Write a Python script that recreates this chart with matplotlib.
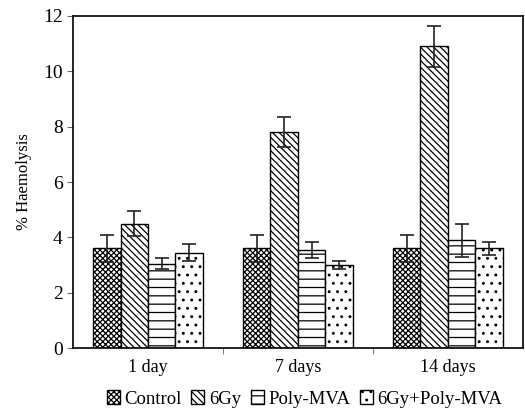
import numpy as np
import matplotlib
matplotlib.use("Agg")
import matplotlib.pyplot as plt

# data
days = ["1 day", "7 days", "14 days"]
series = ["Control", "6Gy", "Poly-MVA", "6Gy+Poly-MVA"]
control = [3.6, 3.6, 3.6]
gy6 = [4.5, 7.8, 10.9]
poly = [3.05, 3.55, 3.9]
combo = [3.45, 3.0, 3.6]
err_control = [0.5, 0.5, 0.5]
err_gy6 = [0.45, 0.55, 0.75]
err_poly = [0.2, 0.3, 0.6]
err_combo = [0.3, 0.15, 0.25]

plt.rcParams['font.family'] = ['Liberation Serif', 'DejaVu Serif']
plt.rcParams['hatch.linewidth'] = 0.9

fig = plt.figure(figsize=(5.25, 4.09), dpi=100)
ax = fig.add_axes([0.139, 0.149, 0.857, 0.812])

x = np.arange(len(days))
w = 0.183
vals = [control, gy6, poly, combo]
errs = [err_control, err_gy6, err_poly, err_combo]
hatches = ['xxxxxx', '\\\\\\\\\\', '--', '..']
for i in range(4):
    ax.bar(x + (i - 1.5) * w, vals[i], w, yerr=errs[i], color='white',
           edgecolor='black', linewidth=1.0, hatch=hatches[i],
           error_kw=dict(ecolor='#222222', elinewidth=1.2, capsize=5, capthick=1.2),
           label=series[i])

ax.set_xlim(-0.5, 2.5)
ax.set_ylim(0, 12)
ax.set_yticks(range(0, 13, 2))
ax.set_xticks(x)
ax.set_xticklabels(days)
ax.set_xticks([0.5, 1.5], minor=True)
ax.tick_params(axis='x', which='major', length=0, labelsize=13, pad=8)
ax.tick_params(axis='x', which='minor', length=4, color='#666666')
ax.tick_params(axis='y', labelsize=14, length=4, color='#666666')
ax.set_ylabel('% Haemolysis', fontsize=12, labelpad=8)
for s in ax.spines.values():
    s.set_linewidth(1.2)

ax.legend(loc='upper center', bbox_to_anchor=(0.515, -0.105), ncol=4, frameon=False,
          fontsize=13.5, handlelength=0.7, handleheight=0.7, handletextpad=0.25,
          columnspacing=0.5, borderaxespad=0)

fig.savefig("out.png", dpi=100)
